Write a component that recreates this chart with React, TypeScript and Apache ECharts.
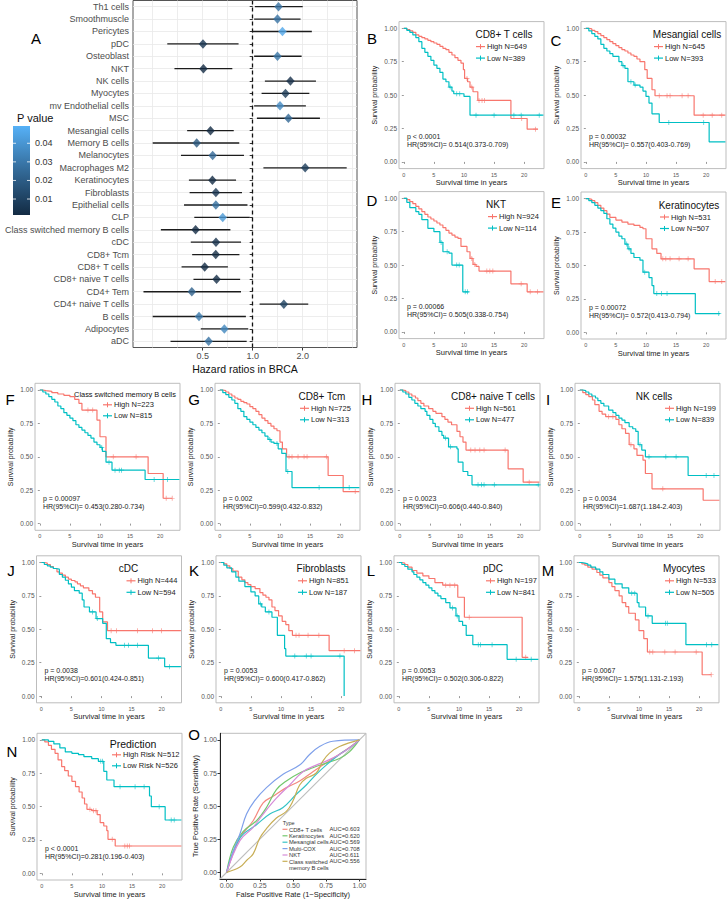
import React, { useEffect, useRef } from "react";
import * as echarts from "echarts";

const FONT = '"Liberation Sans", Arial, Helvetica, sans-serif';
const HIGH = "#F8766D";
const LOW = "#00BFC4";
const PLUS = "path://M-0.14,-1H0.14V-0.14H1V0.14H0.14V1H-0.14V0.14H-1V-0.14H-0.14Z";

// ---------------- Forest plot data (panel A) ----------------
const cellTypes = ["Th1 cells", "Smoothmuscle", "Pericytes", "pDC", "Osteoblast", "NKT", "NK cells", "Myocytes", "mv Endothelial cells", "MSC", "Mesangial cells", "Memory B cells", "Melanocytes", "Macrophages M2", "Keratinocytes", "Fibroblasts", "Epithelial cells", "CLP", "Class switched memory B cells", "cDC", "CD8+ Tcm", "CD8+ T cells", "CD8+ naive T cells", "CD4+ Tem", "CD4+ naive T cells", "B cells", "Adipocytes", "aDC"];
const hrValue = [1.43, 1.41, 1.51, 0.502, 1.41, 0.505, 1.687, 1.575, 1.46, 1.64, 0.557, 0.46, 0.574, 2.07, 0.572, 0.6, 0.6, 0.66, 0.453, 0.601, 0.599, 0.514, 0.606, 0.43, 1.54, 0.475, 0.675, 0.543];
const hrLower = [1.03, 1.02, 0.99, 0.306, 1.02, 0.338, 1.184, 1.131, 1.02, 1.06, 0.403, 0.25, 0.37, 1.16, 0.413, 0.417, 0.386, 0.445, 0.28, 0.424, 0.432, 0.373, 0.44, 0.22, 1.1, 0.25, 0.487, 0.32];
const hrUpper = [2.0, 1.94, 2.27, 0.822, 1.97, 0.754, 2.403, 2.193, 2.09, 2.54, 0.769, 0.83, 0.886, 3.68, 0.794, 0.862, 0.93, 0.96, 0.734, 0.851, 0.832, 0.709, 0.84, 0.85, 2.16, 0.91, 0.94, 0.92];
const pValue = [0.028, 0.028, 0.046, 0.0053, 0.029, 0.00066, 0.0034, 0.0067, 0.036, 0.024, 0.00032, 0.018, 0.025, 0.008, 0.00072, 0.0053, 0.027, 0.041, 0.00097, 0.0038, 0.002, 0.0001, 0.0023, 0.022, 0.01, 0.03, 0.035, 0.028];
const hrTicks = [0.5, 1, 2];
const hrGrid = [0.25, 0.3536, 0.5, 0.7071, 1, 1.4142, 2, 2.8284, 4];
const pLegendTicks = [0.01, 0.02, 0.03, 0.04];
const P_MIN = 0.0014;
const P_MAX = 0.0493;

// ---------------- Kaplan-Meier data: flat [time, survival, ...] ----------------
const cd8tHigh = [0, 1, 0.5, 0.99, 1, 0.98, 1.5, 0.97, 2, 0.95, 2.5, 0.94, 3, 0.93, 3.5, 0.92, 4, 0.91, 4.5, 0.9, 5, 0.89, 5.5, 0.88, 6, 0.865, 6.5, 0.85, 7, 0.84, 7.5, 0.82, 8, 0.8, 8.5, 0.78, 9, 0.76, 9.5, 0.74, 9.9, 0.69, 10.1, 0.625, 10.6, 0.6, 11, 0.56, 11.5, 0.525, 12.3, 0.46, 17.8, 0.325, 20.5, 0.245, 22.3, 0.245];
const cd8tLow = [0, 1, 0.5, 0.985, 1, 0.97, 1.5, 0.95, 2, 0.93, 2.5, 0.9, 3, 0.85, 3.5, 0.82, 4, 0.79, 4.5, 0.76, 5, 0.725, 5.5, 0.7, 6, 0.67, 6.5, 0.62, 7, 0.6, 7.5, 0.56, 8, 0.53, 8.3, 0.51, 10, 0.49, 11, 0.35, 23.2, 0.35];
const cd8tHighCens = [10.5, 11.3, 12.5, 13, 13.4, 19.6, 21.9];
const cd8tLowCens = [7.7, 8.8, 9.3, 12, 15, 18.3, 19.5, 22.5];

const mesHigh = [0, 1, 0.5, 0.995, 1, 0.985, 1.5, 0.975, 2, 0.96, 2.5, 0.945, 3, 0.93, 3.5, 0.915, 4, 0.9, 4.5, 0.885, 5, 0.87, 5.5, 0.855, 6, 0.84, 6.5, 0.83, 7, 0.815, 7.5, 0.8, 8, 0.79, 8.5, 0.77, 9, 0.75, 9.8, 0.69, 10.2, 0.625, 11, 0.54, 11.5, 0.495, 18, 0.35, 23.2, 0.35];
const mesLow = [0, 1, 0.5, 0.98, 1, 0.96, 1.5, 0.94, 2, 0.92, 2.5, 0.88, 3, 0.85, 3.5, 0.83, 4, 0.81, 4.5, 0.79, 5.5, 0.75, 6, 0.72, 6.5, 0.7, 7, 0.6, 8, 0.575, 9, 0.56, 9.5, 0.53, 10, 0.49, 10.5, 0.44, 11, 0.36, 12.2, 0.295, 20.5, 0.15, 23.2, 0.15];
const mesHighCens = [12.2, 13.5, 14, 16, 17, 19.5, 21, 22.6];
const mesLowCens = [6.2, 7.5, 8.2, 13.8, 19.6];

const nktHigh = [0, 1, 0.5, 0.99, 1, 0.975, 1.5, 0.96, 2, 0.94, 2.5, 0.92, 3, 0.9, 3.5, 0.88, 4, 0.86, 4.5, 0.845, 5, 0.83, 5.5, 0.815, 6, 0.8, 6.5, 0.78, 7, 0.76, 7.5, 0.74, 8, 0.725, 8.5, 0.71, 9, 0.7, 9.5, 0.64, 10.5, 0.6, 11, 0.55, 11.5, 0.505, 12, 0.49, 12.5, 0.455, 17.8, 0.36, 20.5, 0.3, 23.2, 0.3];
const nktLow = [0, 1, 0.5, 0.97, 1, 0.93, 2, 0.9, 2.5, 0.88, 3, 0.84, 4, 0.775, 5, 0.75, 6, 0.67, 6.5, 0.6, 7.5, 0.59, 8, 0.5, 9.8, 0.3, 10.8, 0.3];
const nktHighCens = [11.3, 11.8, 13.8, 14.3, 14.8, 19.5, 21, 22.2];
const nktLowCens = [6.2, 7.2, 8.8, 9.2, 10.2, 10.6];

const kerHigh = [0, 1, 0.5, 0.995, 1, 0.985, 1.5, 0.97, 2, 0.95, 2.5, 0.93, 3, 0.91, 3.5, 0.885, 4, 0.86, 5, 0.84, 6, 0.825, 7, 0.81, 8, 0.8, 9, 0.785, 9.5, 0.775, 10, 0.7, 11, 0.625, 11.8, 0.59, 12.5, 0.55, 18, 0.475, 20.5, 0.38, 23.2, 0.38];
const kerLow = [0, 1, 0.5, 0.985, 1, 0.97, 1.5, 0.95, 2, 0.93, 2.5, 0.91, 3, 0.89, 3.5, 0.85, 4, 0.81, 4.5, 0.78, 5, 0.75, 5.5, 0.72, 6, 0.7, 6.5, 0.66, 7, 0.625, 7.5, 0.59, 8, 0.56, 9, 0.54, 9.5, 0.45, 10.5, 0.41, 11, 0.35, 11.3, 0.29, 18.2, 0.14, 22.3, 0.14];
const kerHighCens = [12.8, 13.3, 14, 15.5, 17, 21.5, 22.6];
const kerLowCens = [6.8, 7.2, 9.8, 11.8, 12.6, 13.5, 22.1];

const csmbHigh = [0, 1, 0.5, 0.995, 1, 0.99, 2, 0.98, 3, 0.97, 4, 0.96, 5, 0.95, 5.8, 0.93, 6.5, 0.9, 7, 0.85, 9.5, 0.775, 10, 0.65, 11, 0.5, 18, 0.375, 20.5, 0.19, 22, 0.19];
const csmbLow = [0, 1, 0.5, 0.985, 1, 0.97, 1.5, 0.95, 2, 0.93, 2.5, 0.91, 3, 0.88, 3.5, 0.86, 4, 0.83, 4.5, 0.81, 5, 0.79, 5.5, 0.77, 6, 0.74, 6.5, 0.72, 7, 0.7, 7.5, 0.68, 8, 0.66, 8.5, 0.64, 9, 0.61, 9.5, 0.59, 10, 0.57, 10.4, 0.54, 11, 0.46, 12, 0.4, 17.5, 0.33, 23.2, 0.33];
const csmbHighCens = [8, 8.8, 12.2, 16, 21, 22];
const csmbLowCens = [10.3, 11.5, 12.5, 13.2, 13.6, 19, 21.2];

const tcmHigh = [0, 1, 0.5, 0.995, 1, 0.985, 1.5, 0.97, 2, 0.955, 2.5, 0.94, 3, 0.93, 3.5, 0.915, 4, 0.905, 4.5, 0.895, 5, 0.875, 5.5, 0.86, 6, 0.84, 6.5, 0.815, 7, 0.79, 7.5, 0.77, 8, 0.75, 8.5, 0.73, 9, 0.71, 9.5, 0.695, 10, 0.61, 10.4, 0.56, 11.1, 0.5, 18, 0.36, 20.5, 0.24, 23.2, 0.24];
const tcmLow = [0, 1, 0.5, 0.98, 1, 0.965, 1.5, 0.945, 2, 0.925, 2.5, 0.9, 3, 0.86, 3.5, 0.84, 4, 0.8, 4.5, 0.78, 5, 0.76, 5.5, 0.74, 6, 0.72, 6.5, 0.7, 7, 0.68, 7.5, 0.655, 8, 0.63, 8.5, 0.61, 9, 0.6, 9.7, 0.56, 10.3, 0.525, 11, 0.39, 12, 0.27, 23.2, 0.27];
const tcmHighCens = [11.5, 12, 13, 14, 14.5, 17.7, 22.5];
const tcmLowCens = [8.3, 9.5, 11.3, 16.5, 21.5];

const naiveHigh = [0, 1, 0.5, 0.995, 1, 0.985, 1.5, 0.97, 2, 0.955, 2.6, 0.94, 3, 0.92, 3.5, 0.9, 4, 0.88, 4.8, 0.86, 5.5, 0.84, 6, 0.825, 7, 0.8, 7.5, 0.78, 8, 0.76, 8.6, 0.74, 9.5, 0.69, 10, 0.65, 10.5, 0.61, 11, 0.55, 18, 0.41, 20.5, 0.31, 23.2, 0.31];
const naiveLow = [0, 1, 0.5, 0.985, 1, 0.97, 1.5, 0.945, 2, 0.925, 2.5, 0.9, 3, 0.88, 3.5, 0.86, 4.2, 0.84, 4.5, 0.81, 5, 0.78, 5.5, 0.75, 5.9, 0.725, 6.5, 0.69, 7, 0.66, 7.3, 0.64, 8.1, 0.575, 9.5, 0.56, 9.7, 0.46, 10.5, 0.39, 11.3, 0.36, 12, 0.29, 23.2, 0.29];
const naiveHighCens = [11.8, 12.5, 13.3, 14, 17.5, 21.5];
const naiveLowCens = [7.6, 8.4, 13, 13.6, 14, 15.7, 23];

const nkHigh = [0, 1, 0.5, 0.98, 1, 0.965, 1.5, 0.95, 2.1, 0.925, 2.5, 0.89, 3.2, 0.84, 3.7, 0.82, 4.3, 0.8, 6, 0.78, 6.5, 0.74, 7, 0.71, 7.6, 0.675, 8.2, 0.59, 9, 0.56, 9.5, 0.51, 10.5, 0.475, 10.9, 0.375, 12, 0.26, 20.5, 0.175, 23.2, 0.175];
const nkLow = [0, 1, 0.5, 0.995, 1, 0.985, 1.5, 0.97, 2, 0.955, 2.6, 0.94, 3, 0.92, 3.5, 0.9, 4, 0.88, 4.8, 0.85, 5.5, 0.83, 6, 0.81, 6.5, 0.79, 7, 0.775, 7.5, 0.755, 8.2, 0.725, 8.8, 0.71, 9.3, 0.69, 9.7, 0.59, 10.3, 0.55, 10.9, 0.5, 18, 0.36, 23.2, 0.36];
const nkHighCens = [4.8, 5.5, 8.5, 13.8];
const nkLowCens = [10, 11.5, 14.3, 16, 21, 22.3];

const cdcHigh = [0, 1, 0.5, 0.995, 1, 0.985, 1.5, 0.97, 2, 0.955, 2.6, 0.93, 3, 0.92, 3.5, 0.905, 4, 0.89, 4.5, 0.875, 5, 0.865, 5.6, 0.855, 6, 0.84, 6.5, 0.825, 7, 0.81, 7.9, 0.79, 8.5, 0.765, 9, 0.74, 9.7, 0.63, 10.2, 0.555, 11, 0.49, 23.2, 0.49];
const cdcLow = [0, 1, 0.5, 0.985, 1, 0.975, 1.5, 0.965, 2, 0.955, 2.4, 0.95, 3, 0.91, 3.5, 0.89, 4, 0.867, 4.5, 0.84, 5, 0.815, 5.5, 0.79, 6.3, 0.77, 6.8, 0.72, 7.1, 0.667, 8, 0.63, 9.1, 0.58, 10.2, 0.545, 10.8, 0.43, 11.5, 0.4, 12.4, 0.38, 17.8, 0.285, 20.5, 0.22, 23.2, 0.22];
const cdcHighCens = [11.6, 12.5, 16, 18.5, 20];
const cdcLowCens = [8.5, 9.3, 13.8, 14.5, 16, 19.5, 21.3];

const fibHigh = [0, 1, 0.5, 0.99, 1, 0.975, 1.5, 0.955, 2, 0.935, 2.9, 0.89, 3.5, 0.87, 4, 0.85, 4.5, 0.835, 5, 0.82, 5.7, 0.805, 6.5, 0.775, 7, 0.755, 7.5, 0.74, 8, 0.72, 8.5, 0.667, 9, 0.64, 9.6, 0.6, 10.2, 0.56, 10.8, 0.535, 11.3, 0.49, 11.9, 0.455, 18, 0.34, 23.2, 0.34];
const fibLow = [0, 1, 0.5, 0.98, 1, 0.96, 1.8, 0.93, 2.5, 0.89, 3, 0.86, 4, 0.82, 5, 0.78, 5.7, 0.75, 6.3, 0.69, 6.8, 0.667, 7.4, 0.63, 8.5, 0.59, 9.4, 0.455, 10.6, 0.355, 10.8, 0.3, 20.5, 0];
const fibHighCens = [12.5, 13, 14.5, 16.3, 20.5, 22.2];
const fibLowCens = [6.6, 8, 12.3, 14.2, 15, 19.8];

const pdcHigh = [0, 1, 0.5, 0.995, 1, 0.985, 1.5, 0.965, 2.2, 0.94, 3, 0.92, 4, 0.9, 5, 0.88, 6, 0.85, 7.3, 0.83, 9.8, 0.74, 10.9, 0.59, 20.5, 0.29, 21.5, 0.29];
const pdcLow = [0, 1, 0.5, 0.985, 1, 0.97, 1.5, 0.95, 2.2, 0.93, 2.5, 0.91, 3, 0.89, 3.5, 0.87, 4, 0.85, 4.5, 0.83, 5, 0.81, 5.5, 0.79, 6, 0.77, 6.5, 0.75, 7, 0.73, 7.8, 0.7, 8.5, 0.66, 9.5, 0.6, 10, 0.56, 10.6, 0.53, 11.2, 0.455, 12.3, 0.385, 18, 0.275, 23.2, 0.275];
const pdcHighCens = [7.8, 8.5, 9.3, 11.7, 21.1];
const pdcLowCens = [8.9, 9.7, 13.2, 13.6, 15.5, 19.5, 22];

const myoHigh = [0, 1, 0.5, 0.99, 1, 0.98, 1.5, 0.965, 2.2, 0.95, 3, 0.925, 3.5, 0.905, 4, 0.885, 5, 0.85, 5.5, 0.82, 6, 0.79, 6.7, 0.75, 7.2, 0.7, 7.8, 0.67, 8.3, 0.62, 9.4, 0.57, 10, 0.49, 10.8, 0.43, 11.4, 0.33, 20.5, 0.16, 22, 0.16];
const myoLow = [0, 1, 0.5, 0.995, 1, 0.99, 1.5, 0.98, 2, 0.965, 2.8, 0.95, 3.5, 0.93, 4, 0.91, 5, 0.875, 6, 0.84, 7.2, 0.81, 8.3, 0.77, 9.5, 0.765, 9.7, 0.7, 10, 0.667, 11.1, 0.6, 12.2, 0.545, 17.8, 0.385, 23.2, 0.385];
const myoHighCens = [11.8, 12.3, 14.3, 16, 19.5, 22];
const myoLowCens = [8.8, 9.3, 11.5, 14.4, 14.7, 21.2, 22.1];

const predHigh = [0, 1, 0.5, 0.985, 1.1, 0.96, 1.6, 0.93, 2.2, 0.9, 2.7, 0.85, 3.3, 0.8, 3.8, 0.77, 4.4, 0.73, 5, 0.69, 5.6, 0.65, 6.2, 0.61, 6.7, 0.565, 7.1, 0.52, 7.5, 0.48, 8.3, 0.47, 9.2, 0.44, 9.7, 0.38, 10.3, 0.355, 10.8, 0.32, 11, 0.255, 12.2, 0.205, 23.2, 0.205];
const predLow = [0, 1, 1.1, 0.99, 2, 0.97, 3, 0.94, 3.9, 0.91, 5, 0.9, 6.1, 0.89, 7, 0.875, 8.3, 0.86, 9.4, 0.84, 10.3, 0.765, 10.8, 0.7, 12, 0.65, 17.9, 0.58, 18.2, 0.5, 20.5, 0.4, 23.2, 0.4];
const predHighCens = [8, 8.6, 9, 11.7, 13.8, 14.2, 14.6];
const predLowCens = [9.8, 10.1, 13, 15.5, 17, 19.5, 21.5, 22];

const kmTimeTicks = [0, 5, 10, 15, 20];
const kmProbTicks = [0, 0.25, 0.5, 0.75, 1];

// ---------------- ROC data: flat [FPR, TPR, ...] ----------------
const rocCD8T = [0, 0, 0.1, 0.26, 0.2, 0.39, 0.275, 0.525, 0.35, 0.575, 0.45, 0.64, 0.55, 0.69, 0.65, 0.76, 0.725, 0.81, 0.8, 0.86, 0.9, 0.925, 1, 1];
const rocKerat = [0, 0, 0.05, 0.19, 0.125, 0.31, 0.225, 0.39, 0.3, 0.49, 0.375, 0.625, 0.45, 0.69, 0.55, 0.75, 0.65, 0.79, 0.75, 0.825, 0.85, 0.86, 0.925, 0.91, 1, 1];
const rocMesan = [0, 0, 0.1, 0.26, 0.225, 0.36, 0.325, 0.44, 0.425, 0.49, 0.525, 0.59, 0.6, 0.66, 0.675, 0.74, 0.75, 0.81, 0.85, 0.89, 0.925, 0.94, 1, 1];
const rocMulti = [0, 0, 0.05, 0.16, 0.1, 0.29, 0.15, 0.44, 0.21, 0.54, 0.3, 0.64, 0.425, 0.74, 0.55, 0.81, 0.625, 0.89, 0.7, 0.95, 0.8, 0.99, 1, 1];
const rocNKT = [0, 0, 0.1, 0.24, 0.2, 0.34, 0.275, 0.44, 0.375, 0.56, 0.475, 0.66, 0.575, 0.76, 0.675, 0.81, 0.75, 0.84, 0.85, 0.89, 0.925, 0.94, 1, 1];
const rocCSMB = [0, 0, 0.1, 0.04, 0.15, 0.09, 0.2, 0.14, 0.25, 0.26, 0.3, 0.33, 0.375, 0.41, 0.45, 0.46, 0.5, 0.54, 0.55, 0.66, 0.6, 0.71, 0.675, 0.75, 0.725, 0.84, 0.775, 0.9, 0.85, 0.95, 1, 1];
const rocNames = ["CD8+ T cells", "Keratinocytes", "Mesangial cells", "Multi-COX", "NKT", "Class switched\nmemory B cells"];
const rocAUC = ["AUC=0.603", "AUC=0.620", "AUC=0.569", "AUC=0.708", "AUC=0.611", "AUC=0.556"];
const rocColors = ["#F4887E", "#72C86C", "#35C3C6", "#7FA0EA", "#D68BD8", "#C8AE55"];
const rocTicks = [0, 0.25, 0.5, 0.75, 1];

// ---------------- layout (positions only) ----------------
const KM_W = 145;
const KM_H = 147;
const kmLayout = [
  { left: 399, top: 21.6, tx: 105, kx: 77, c: 0 },
  { left: 581, top: 21.6, tx: 106, kx: 73, c: 0 },
  { left: 399, top: 191.6, tx: 97, kx: 89, c: 0 },
  { left: 581, top: 192, tx: 108, kx: 79, c: 0 },
  { left: 35, top: 383.3, tx: 90, kx: 68, c: 1 },
  { left: 215, top: 383.3, tx: 107, kx: 85, c: 0 },
  { left: 395, top: 383.3, tx: 98, kx: 70, c: 0 },
  { left: 575, top: 383.3, tx: 79, kx: 90, c: 0 },
  { left: 36.5, top: 555.8, tx: 92, kx: 90, c: 0 },
  { left: 216, top: 555.8, tx: 105, kx: 82, c: 0 },
  { left: 394, top: 555.8, tx: 99, kx: 92, c: 0 },
  { left: 574, top: 555.8, tx: 110, kx: 91, c: 0 },
  { left: 37, top: 733.3, tx: 96, kx: 75, c: 1 },
];
const letters = [["A", 36, 38], ["B", 372, 38], ["C", 556, 40], ["D", 372, 200], ["E", 556, 202], ["F", 10, 399], ["G", 194, 399], ["H", 367, 399], ["I", 548, 399], ["J", 11, 570], ["K", 194, 570], ["L", 371, 570], ["M", 548, 570], ["N", 12, 751], ["O", 194, 734]];

const kmPanels = [
  { title: "CD8+ T cells", hi: "High N=649", lo: "Low N=389", p: "p < 0.0001", hr: "HR(95%CI)= 0.514(0.373-0.709)", high: cd8tHigh, low: cd8tLow, hc: cd8tHighCens, lc: cd8tLowCens },
  { title: "Mesangial cells", hi: "High N=645", lo: "Low N=393", p: "p = 0.00032", hr: "HR(95%CI)= 0.557(0.403-0.769)", high: mesHigh, low: mesLow, hc: mesHighCens, lc: mesLowCens },
  { title: "NKT", hi: "High N=924", lo: "Low N=114", p: "p = 0.00066", hr: "HR(95%CI)= 0.505(0.338-0.754)", high: nktHigh, low: nktLow, hc: nktHighCens, lc: nktLowCens },
  { title: "Keratinocytes", hi: "High N=531", lo: "Low N=507", p: "p = 0.00072", hr: "HR(95%CI)= 0.572(0.413-0.794)", high: kerHigh, low: kerLow, hc: kerHighCens, lc: kerLowCens },
  { title: "Class switched memory B cells", hi: "High N=223", lo: "Low N=815", p: "p = 0.00097", hr: "HR(95%CI)= 0.453(0.280-0.734)", high: csmbHigh, low: csmbLow, hc: csmbHighCens, lc: csmbLowCens },
  { title: "CD8+ Tcm", hi: "High N=725", lo: "Low N=313", p: "p = 0.002", hr: "HR(95%CI)=0.599(0.432-0.832)", high: tcmHigh, low: tcmLow, hc: tcmHighCens, lc: tcmLowCens },
  { title: "CD8+ naive T cells", hi: "High N=561", lo: "Low N=477", p: "p = 0.0023", hr: "HR(95%CI)=0.606(0.440-0.840)", high: naiveHigh, low: naiveLow, hc: naiveHighCens, lc: naiveLowCens },
  { title: "NK cells", hi: "High N=199", lo: "Low N=839", p: "p = 0.0034", hr: "HR(95%CI)=1.687(1.184-2.403)", high: nkHigh, low: nkLow, hc: nkHighCens, lc: nkLowCens },
  { title: "cDC", hi: "High N=444", lo: "Low N=594", p: "p = 0.0038", hr: "HR(95%CI)=0.601(0.424-0.851)", high: cdcHigh, low: cdcLow, hc: cdcHighCens, lc: cdcLowCens },
  { title: "Fibroblasts", hi: "High N=851", lo: "Low N=187", p: "p = 0.0053", hr: "HR(95%CI)= 0.600(0.417-0.862)", high: fibHigh, low: fibLow, hc: fibHighCens, lc: fibLowCens },
  { title: "pDC", hi: "High N=197", lo: "Low N=841", p: "p = 0.0053", hr: "HR(95%CI)= 0.502(0.306-0.822)", high: pdcHigh, low: pdcLow, hc: pdcHighCens, lc: pdcLowCens },
  { title: "Myocytes", hi: "High N=533", lo: "Low N=505", p: "p = 0.0067", hr: "HR(95%CI)= 1.575(1.131-2.193)", high: myoHigh, low: myoLow, hc: myoHighCens, lc: myoLowCens },
  { title: "Prediction", hi: "High Risk N=512", lo: "Low Risk N=526", p: "p < 0.0001", hr: "HR(95%CI)=0.281(0.196-0.403)", high: predHigh, low: predLow, hc: predHighCens, lc: predLowCens },
];

function pairs(flat: number[]) {
  const out: number[][] = [];
  for (let i = 0; i < flat.length; i += 2) out.push([flat[i], flat[i + 1]]);
  return out;
}
function survAt(flat: number[], t: number) {
  let s = 1;
  for (let i = 0; i < flat.length; i += 2) {
    if (flat[i] <= t) s = flat[i + 1];
    else break;
  }
  return s;
}
function txt(text: string, x: number, y: number, size: number, fill = "#1a1a1a", align = "left", extra: any = {}) {
  return { type: "text", x, y, silent: true, style: { text, fill, fontSize: size, fontFamily: FONT, align, verticalAlign: "middle", ...extra } };
}

function buildOption() {
  const grid: any[] = [];
  const xAxis: any[] = [];
  const yAxis: any[] = [];
  const series: any[] = [];
  const graphic: any[] = [];
  const log2 = (v: number) => Math.log(v) / Math.LN2;

  // ---------- Panel A ----------
  grid.push({ left: 133, top: 0.5, width: 224, height: 347, show: true, borderColor: "#555", borderWidth: 1, backgroundColor: "transparent" });
  xAxis.push({
    gridIndex: 0, type: "value", min: -2.394, max: 2.086,
    axisLine: { show: false }, splitLine: { show: false },
    axisTick: { show: true, customValues: hrTicks.map(log2), length: 3, lineStyle: { color: "#333" } },
    axisLabel: { customValues: hrTicks.map(log2), formatter: (v: number) => Math.pow(2, v).toFixed(1), fontSize: 9, color: "#4d4d4d", fontFamily: FONT, margin: 4 },
    name: "Hazard ratios in BRCA", nameLocation: "middle", nameGap: 16, nameTextStyle: { fontSize: 10.5, color: "#111", fontFamily: FONT },
  });
  yAxis.push({
    gridIndex: 0, type: "category", data: cellTypes, inverse: true,
    axisLine: { show: false }, splitLine: { show: false },
    axisTick: { show: true, alignWithLabel: true, length: 3, lineStyle: { color: "#333" } },
    axisLabel: { fontSize: 9, color: "#4d4d4d", fontFamily: FONT, margin: 4 },
  });
  series.push({
    type: "line", xAxisIndex: 0, yAxisIndex: 0, data: [], silent: true, showSymbol: false, z: 0, zlevel: 0,
    markLine: {
      silent: true, symbol: ["none", "none"], label: { show: false }, z: 0,
      lineStyle: { color: "#E8E8E8", width: 0.8, type: "solid" },
      data: [...cellTypes.map((c) => ({ yAxis: c })), ...hrGrid.map((v) => ({ xAxis: log2(v) }))],
    },
  });
  series.push({
    type: "line", xAxisIndex: 0, yAxisIndex: 0, data: [], silent: true, showSymbol: false, z: 1,
    markLine: { silent: true, symbol: ["none", "none"], label: { show: false }, z: 1, lineStyle: { color: "#111", width: 1.3, type: [4, 3] }, data: [{ xAxis: 0 }] },
  });
  series.push({
    type: "custom", xAxisIndex: 0, yAxisIndex: 0, silent: true, z: 10,
    data: cellTypes.map((c, i) => [log2(hrLower[i]), log2(hrUpper[i]), i]),
    encode: { x: [0, 1], y: 2 },
    renderItem: (params: any, api: any) => {
      const a = api.coord([api.value(0), api.value(2)]);
      const b = api.coord([api.value(1), api.value(2)]);
      return { type: "line", shape: { x1: a[0], y1: a[1], x2: b[0], y2: b[1] }, style: { stroke: "#1c1c1c", lineWidth: 1.3 } };
    },
  });
  const diamondIndex = series.length;
  series.push({
    type: "scatter", xAxisIndex: 0, yAxisIndex: 0, silent: true, symbol: "diamond", symbolSize: [8.5, 9.5], z: 11,
    data: cellTypes.map((c, i) => [log2(hrValue[i]), i, pValue[i]]),
  });
  // colour bar
  const cbX = 13, cbY = 126, cbW = 17, cbH = 89;
  graphic.push(txt("P value", 17, 118, 11, "#111"));
  graphic.push({ type: "rect", silent: true, shape: { x: cbX, y: cbY, width: cbW, height: cbH }, style: { fill: { type: "linear", x: 0, y: 0, x2: 0, y2: 1, colorStops: [{ offset: 0, color: "#56B1F7" }, { offset: 0.5, color: "#336A98" }, { offset: 1, color: "#132B43" }] } } });
  pLegendTicks.forEach((v) => {
    const y = cbY + (cbH * (P_MAX - v)) / (P_MAX - P_MIN);
    graphic.push({ type: "line", silent: true, shape: { x1: cbX, y1: y, x2: cbX + 3, y2: y }, style: { stroke: "#fff", lineWidth: 0.8 } });
    graphic.push({ type: "line", silent: true, shape: { x1: cbX + cbW - 3, y1: y, x2: cbX + cbW, y2: y }, style: { stroke: "#fff", lineWidth: 0.8 } });
    graphic.push(txt(v.toFixed(2), 35, y, 9, "#333"));
  });

  // ---------- KM panels ----------
  kmPanels.forEach((p, k) => {
    const L = kmLayout[k];
    const gi = grid.length;
    grid.push({ left: L.left, top: L.top, width: KM_W, height: KM_H, show: true, borderColor: "#BDBDBD", borderWidth: 1, backgroundColor: "transparent" });
    xAxis.push({
      gridIndex: gi, type: "value", min: -0.8, max: 23.3,
      axisLine: { show: false }, splitLine: { show: false },
      axisTick: { show: true, customValues: kmTimeTicks, length: 2, lineStyle: { color: "#555", width: 0.6 } },
      axisLabel: { customValues: kmTimeTicks, fontSize: 5.5, color: "#555", fontFamily: FONT, margin: 3 },
      name: "Survival time in years", nameLocation: "middle", nameGap: 10, nameTextStyle: { fontSize: 7.5, color: "#222", fontFamily: FONT },
    });
    yAxis.push({
      gridIndex: gi, type: "value", min: -0.05, max: 1.05,
      axisLine: { show: false }, splitLine: { show: false },
      axisTick: { show: true, customValues: kmProbTicks, length: 2, lineStyle: { color: "#555", width: 0.6 } },
      axisLabel: { customValues: kmProbTicks, formatter: (v: number) => v.toFixed(2), fontSize: 6.5, color: "#555", fontFamily: FONT, margin: 2 },
      name: "Survival probability", nameLocation: "middle", nameGap: 21, nameTextStyle: { fontSize: 7, color: "#222", fontFamily: FONT },
    });
    const lineBase = { type: "line", xAxisIndex: gi, yAxisIndex: gi, step: "end", showSymbol: false, symbol: "none", silent: true };
    series.push({ ...lineBase, data: pairs(p.high), lineStyle: { color: HIGH, width: 1.2 } });
    series.push({ ...lineBase, data: pairs(p.low), lineStyle: { color: LOW, width: 1.2 } });
    series.push({ type: "scatter", xAxisIndex: gi, yAxisIndex: gi, silent: true, symbol: PLUS, symbolSize: 5, itemStyle: { color: HIGH }, data: p.hc.map((t) => [t, survAt(p.high, t)]) });
    series.push({ type: "scatter", xAxisIndex: gi, yAxisIndex: gi, silent: true, symbol: PLUS, symbolSize: 5, itemStyle: { color: LOW }, data: p.lc.map((t) => [t, survAt(p.low, t)]) });

    const bottom = L.top + KM_H;
    const ty = L.top + (L.c ? 11 : 13);
    const r1 = L.top + (L.c ? 21.5 : 25);
    const r2 = L.top + (L.c ? 32.5 : 36.5);
    const tsize = k === 4 ? 7.4 : k === 12 ? 10.5 : 10;
    graphic.push(txt(p.title, L.left + L.tx, ty, tsize, "#111", "center"));
    [[r1, HIGH, p.hi], [r2, LOW, p.lo]].forEach(([y, col, label]: any) => {
      const kx = L.left + L.kx;
      graphic.push({ type: "line", silent: true, shape: { x1: kx, y1: y, x2: kx + 9, y2: y }, style: { stroke: col, lineWidth: 1.2 } });
      graphic.push({ type: "line", silent: true, shape: { x1: kx + 4.5, y1: y - 2.5, x2: kx + 4.5, y2: y + 2.5 }, style: { stroke: col, lineWidth: 1 } });
      graphic.push(txt(label, kx + 11, y, 7.5, "#222"));
    });
    graphic.push(txt(p.p, L.left + 8, bottom - 32, 7, "#222"));
    graphic.push(txt(p.hr, L.left + 8, bottom - 24, 7, "#222"));
  });

  // ---------- ROC (panel O) ----------
  const ri = grid.length;
  grid.push({ left: 220, top: 733.3, width: 146, height: 146.6, show: true, borderColor: "#BDBDBD", borderWidth: 1, backgroundColor: "transparent" });
  xAxis.push({
    gridIndex: ri, type: "value", min: -0.05, max: 1.05,
    axisLine: { show: true, onZero: false, lineStyle: { color: "#222", width: 1 } }, splitLine: { show: false },
    axisTick: { show: true, customValues: rocTicks, length: 2.5, lineStyle: { color: "#333" } },
    axisLabel: { customValues: rocTicks, formatter: (v: number) => v.toFixed(2), fontSize: 7, color: "#555", fontFamily: FONT, margin: 3 },
    name: "False Positive Rate (1\u2212Specificity)", nameLocation: "middle", nameGap: 11, nameTextStyle: { fontSize: 7.5, color: "#222", fontFamily: FONT },
  });
  yAxis.push({
    gridIndex: ri, type: "value", min: -0.05, max: 1.05,
    axisLine: { show: true, onZero: false, lineStyle: { color: "#222", width: 1 } }, splitLine: { show: false },
    axisTick: { show: true, customValues: rocTicks, length: 2.5, lineStyle: { color: "#333" } },
    axisLabel: { customValues: rocTicks, formatter: (v: number) => v.toFixed(2), fontSize: 7, color: "#555", fontFamily: FONT, margin: 3 },
    name: "True Positive Rate (Sensitivity)", nameLocation: "middle", nameGap: 20, nameTextStyle: { fontSize: 7.5, color: "#222", fontFamily: FONT },
  });
  series.push({ type: "line", xAxisIndex: ri, yAxisIndex: ri, silent: true, showSymbol: false, symbol: "none", data: [[-0.05, -0.05], [1.05, 1.05]], lineStyle: { color: "#BDBDBD", width: 1.1 } });
  [rocCD8T, rocKerat, rocMesan, rocMulti, rocNKT, rocCSMB].forEach((d, i) => {
    series.push({ type: "line", xAxisIndex: ri, yAxisIndex: ri, silent: true, showSymbol: false, symbol: "none", smooth: 0.4, data: pairs(d), lineStyle: { color: rocColors[i], width: 1.2 } });
  });
  graphic.push(txt("Type", 282.7, 822.7, 5.5, "#333"));
  const rocRowY = [829.3, 835.8, 842.2, 848.6, 855, 861.3];
  rocNames.forEach((n, i) => {
    const y = rocRowY[i];
    graphic.push({ type: "line", silent: true, shape: { x1: 282.5, y1: y, x2: 287.5, y2: y }, style: { stroke: rocColors[i], lineWidth: 1.2 } });
    graphic.push({ type: "text", x: 289, y: y - 3, silent: true, style: { text: n, fill: "#333", fontSize: 5.8, fontFamily: FONT, align: "left", verticalAlign: "top", lineHeight: 6.6 } });
    graphic.push(txt(rocAUC[i], 329.5, y, 5.8, "#333"));
  });

  // ---------- panel letters ----------
  letters.forEach(([t, x, y]: any) => graphic.push(txt(t, x, y, 15, "#000", "center")));

  return {
    animation: false,
    backgroundColor: "#fff",
    textStyle: { fontFamily: FONT },
    grid, xAxis, yAxis, series, graphic,
    visualMap: [{ show: false, type: "continuous", seriesIndex: diamondIndex, dimension: 2, min: P_MIN, max: P_MAX, inRange: { color: ["#132B43", "#336A98", "#56B1F7"] } }],
  };
}

export default function App() {
  const ref = useRef<HTMLDivElement>(null);
  useEffect(() => {
    const chart = echarts.init(ref.current as HTMLDivElement, undefined, { renderer: "svg" });
    chart.setOption(buildOption() as any);
    return () => chart.dispose();
  }, []);
  return <div ref={ref} style={{ position: "fixed", left: 0, top: 0, width: 727, height: 899, background: "#fff" }} />;
}
